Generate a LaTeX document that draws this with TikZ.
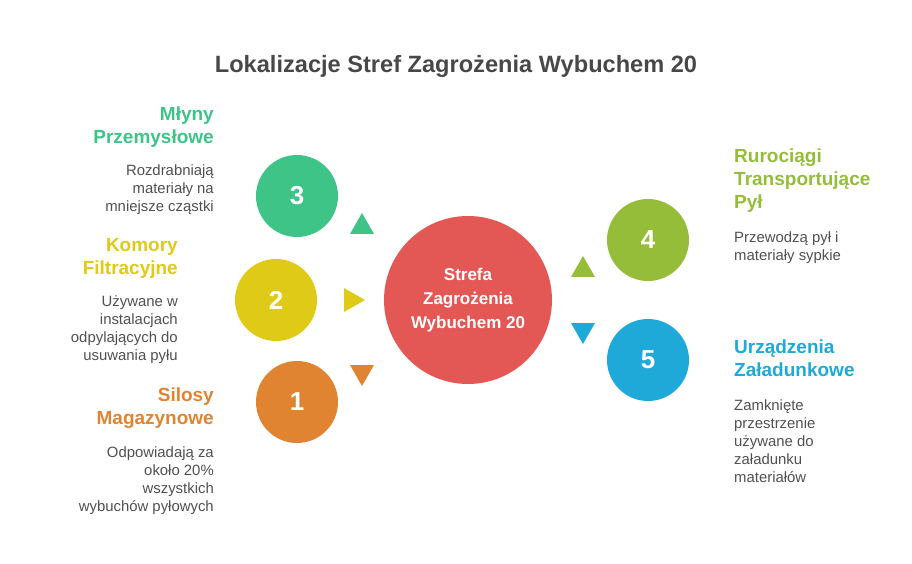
\documentclass[tikz,border=0pt]{standalone}
\usepackage{fontspec}
\setmainfont{Liberation Sans}
\usetikzlibrary{shapes.geometric}
\definecolor{cred}{HTML}{E35855}
\definecolor{cgreen}{HTML}{3EC486}
\definecolor{cyellow}{HTML}{DFCA18}
\definecolor{corange}{HTML}{E08431}
\definecolor{colive}{HTML}{95BD3A}
\definecolor{cblue}{HTML}{1EA9D9}
\definecolor{ctitle}{HTML}{484848}
\definecolor{cdesc}{HTML}{505050}
\tikzset{
  numcirc/.style={circle, minimum size=82pt, inner sep=0pt, text=white, font=\fontsize{26}{30}\selectfont\bfseries},
  head/.style={inner sep=0pt, font=\fontsize{19}{23}\selectfont\bfseries},
  desc/.style={inner sep=0pt, text=cdesc, font=\fontsize{14.9}{18}\selectfont},
  tri/.style={isosceles triangle, isosceles triangle apex angle=60, inner sep=0pt, minimum height=21pt, minimum width=24pt, isosceles triangle stretches},
}
\begin{document}
\begin{tikzpicture}[x=1pt,y=-1pt]
\useasboundingbox (0,0) rectangle (912,564);
\node[inner sep=0pt, text=ctitle, font=\fontsize{23.6}{27}\selectfont\bfseries, anchor=base] (title) at (456,73) {Lokalizacje Stref Zagrożenia Wybuchem 20};

\node[circle, minimum size=168pt, inner sep=0pt, fill=cred, text=white, align=center, font=\fontsize{17}{24}\selectfont\bfseries] (center) at (468,300) {Strefa\\Zagrożenia\\Wybuchem 20};

\node[numcirc, fill=cgreen] (c3) at (297,196) {3};
\node[numcirc, fill=cyellow] (c2) at (276,300) {2};
\node[numcirc, fill=corange] (c1) at (297,402) {1};
\node[numcirc, fill=colive] (c4) at (648,240) {4};
\node[numcirc, fill=cblue] (c5) at (648,360) {5};

\node[tri, fill=cgreen, shape border rotate=90] (t3) at (362,227) {};
\node[tri, fill=cyellow, shape border rotate=0] (t2) at (351,300) {};
\node[tri, fill=corange, shape border rotate=-90] (t1) at (362,372) {};
\node[tri, fill=colive, shape border rotate=90] (t4) at (583,270) {};
\node[tri, fill=cblue, shape border rotate=-90] (t5) at (583,330) {};

% left texts
\node[head, text=cgreen, align=right, anchor=north east] (h3) at (214,107) {Młyny\\Przemysłowe};
\node[desc, align=right, anchor=north east] (d3) at (214,165) {Rozdrabniają\\materiały na\\mniejsze cząstki};

\node[head, text=cyellow, align=right, anchor=north east] (h2) at (178,238) {Komory\\Filtracyjne};
\node[desc, align=right, anchor=north east] (d2) at (178,296) {Używane w\\instalacjach\\odpylających do\\usuwania pyłu};

\node[head, text=corange, align=right, anchor=north east] (h1) at (214,388) {Silosy\\Magazynowe};
\node[desc, align=right, anchor=north east] (d1) at (214,446) {Odpowiadają za\\około 20\%\\wszystkich\\wybuchów pyłowych};

% right texts
\node[head, text=colive, align=left, anchor=north west] (h4) at (734,149) {Rurociągi\\Transportujące\\Pył};
\node[desc, align=left, anchor=north west] (d4) at (734,232) {Przewodzą pył i\\materiały sypkie};

\node[head, text=cblue, align=left, anchor=north west] (h5) at (734,340) {Urządzenia\\Załadunkowe};
\node[desc, align=left, anchor=north west] (d5) at (734,399) {Zamknięte\\przestrzenie\\używane do\\załadunku\\materiałów};
\end{tikzpicture}
\end{document}
